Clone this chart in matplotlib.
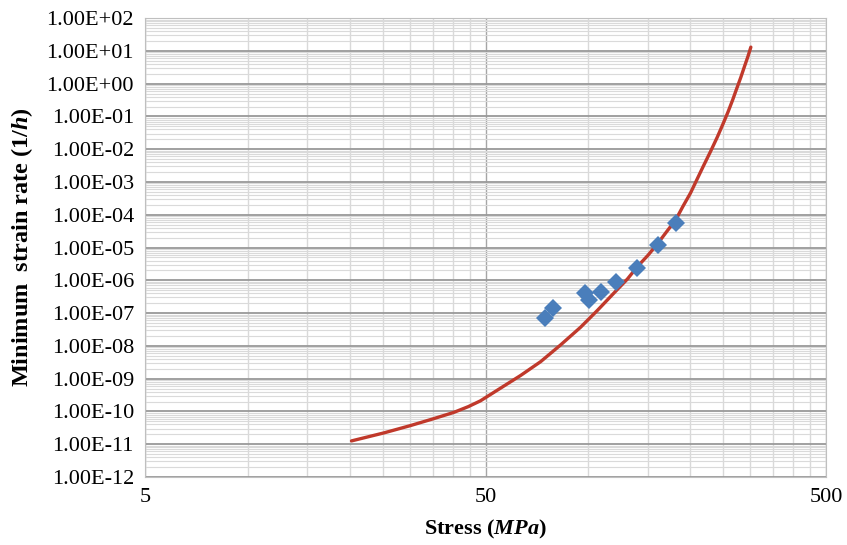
import matplotlib
matplotlib.use("Agg")
import matplotlib.pyplot as plt
import numpy as np

# measured points (stress in MPa, min strain rate in 1/h)
stress_exp = [75, 79, 98, 100.5, 109, 120.5, 139.5, 160, 181]
rate_exp = [7.1e-8, 1.44e-7, 4.1e-7, 2.5e-7, 4.4e-7, 9.1e-7, 2.3e-6, 1.2e-5, 5.7e-5]

# model curve
stress_fit = [20.2, 25.1, 30.1, 35.0, 40.3, 44.5, 48.3, 55.3, 63.4, 72.6, 83.1,
              95.1, 106.5, 119.2, 130.6, 139.6, 150, 160, 170, 181, 190, 200,
              209, 218, 229, 240, 249, 258, 266, 273, 281, 288, 295, 300.8]
rate_fit = [1.26e-11, 2.2e-11, 3.7e-11, 5.9e-11, 9.3e-11, 1.4e-10, 2.1e-10,
            5.1e-10, 1.25e-9, 3.3e-9, 1.07e-8, 3.7e-8, 1.2e-7, 4.1e-7, 1.1e-6,
            2.6e-6, 5.8e-6, 1.3e-5, 3.0e-5, 7.0e-5, 1.8e-4, 4.6e-4,
            1.2e-3, 3.0e-3, 8.5e-3, 0.024, 0.058, 0.14, 0.32, 0.68, 1.55,
            3.3, 6.8, 13.0]

y_ticks = [10.0 ** k for k in range(-12, 3)]
x_ticks = [5, 50, 500]

plt.rcParams['font.family'] = 'Liberation Serif'
plt.rcParams['mathtext.fontset'] = 'custom'
plt.rcParams['mathtext.it'] = 'Liberation Serif:italic:bold'
plt.rcParams['mathtext.rm'] = 'Liberation Serif:bold'

fig = plt.figure(figsize=(8.47, 5.45), dpi=100)
ax = fig.add_axes([0.1712, 0.1248, 0.804, 0.842])
ax.set_xscale('log')
ax.set_yscale('log')
ax.set_xlim(5, 500)
ax.set_ylim(1e-12, 1e2)

# grid lines, Excel style
minor_x = [5 * m for m in range(2, 10)] + [50 * m for m in range(2, 10)]
for v in minor_x:
    ax.axvline(v, color='#d9d9d9', lw=1.0, zorder=0)
for v in x_ticks:
    ax.axvline(v, color='#a6a6a6', lw=1.0, zorder=0)
for k in range(-12, 2):
    for m in range(2, 10):
        ax.axhline(m * 10.0 ** k, color='#dadada', lw=0.8, zorder=0)
for v in y_ticks:
    ax.axhline(v, color='#999999', lw=1.3, zorder=0)

ax.plot(stress_fit, rate_fit, color='#c0392b', lw=2.4, zorder=3,
        solid_joinstyle='round', solid_capstyle='round')
ax.plot(stress_exp, rate_exp, 'D', color='#4a7ebb', ms=9.5, mew=0, zorder=4)

ax.set_xticks(x_ticks)
ax.set_xticklabels([str(v) for v in x_ticks])
ax.set_yticks(y_ticks)
ax.set_yticklabels(['1.00E%+03d' % k if k >= 0 else '1.00E-%02d' % -k for k in range(-12, 3)])
ax.minorticks_off()
ax.tick_params(length=0, labelsize=16, pad=8)

for s in ax.spines.values():
    s.set_color('#bfbfbf')

ax.set_xlabel(r'Stress ($\mathit{MPa}$)', fontsize=16, fontweight='bold', labelpad=8)
ax.set_ylabel(r'Minimum  strain rate ($\mathit{1/h}$)', fontsize=17.5, fontweight='bold', labelpad=8)

fig.savefig('out.png', dpi=100)
